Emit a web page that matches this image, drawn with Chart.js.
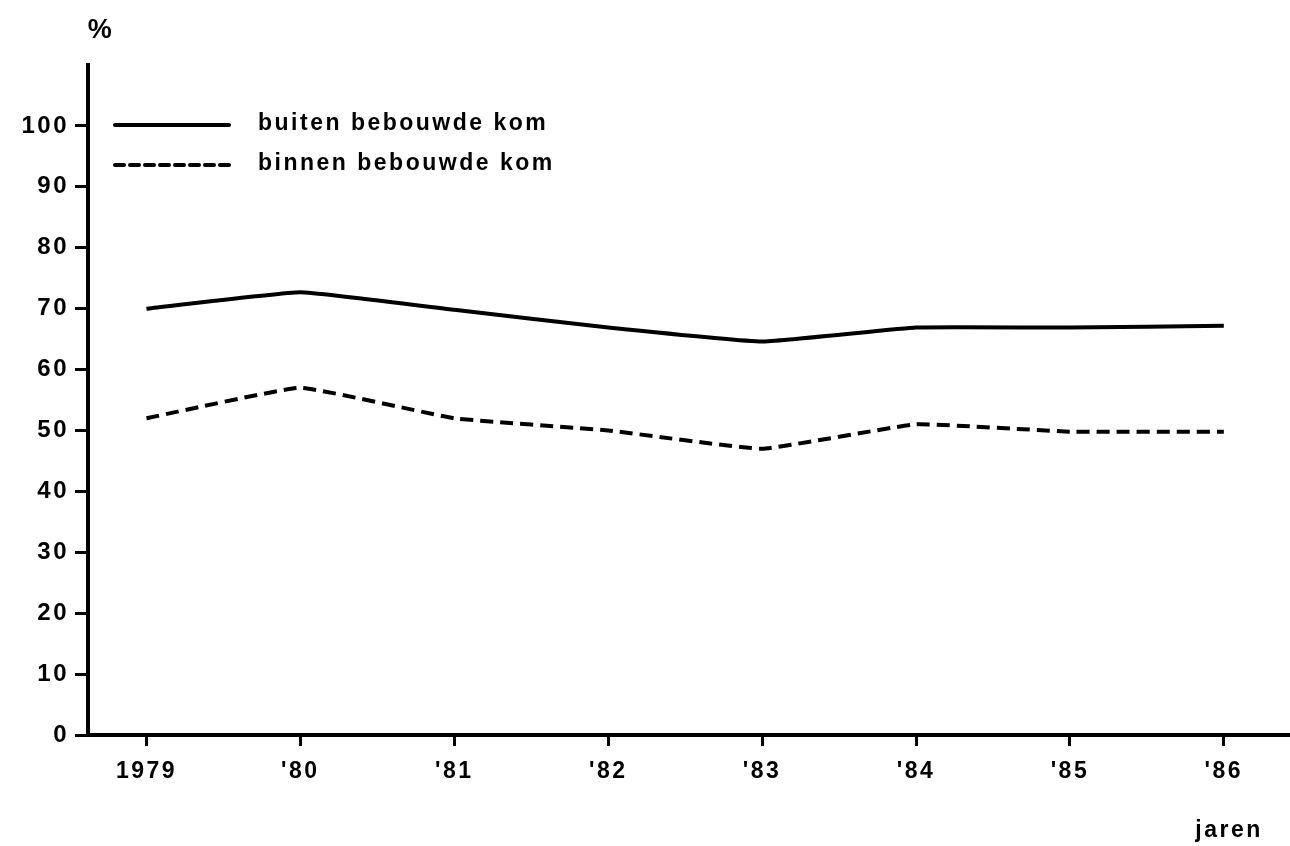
<!DOCTYPE html>
<html>
<head>
<meta charset="utf-8">
<script src="https://cdn.jsdelivr.net/npm/chart.js@4/dist/chart.umd.min.js"></script>
<style>
  html, body { margin: 0; padding: 0; background: #fff; }
  canvas { display: block; }
</style>
</head>
<body>
<canvas id="chart" width="1290" height="846"></canvas>
<script>
// years on the x axis
const yearLabels = ['1979', "'80", "'81", "'82", "'83", "'84", "'85", "'86"];
// percentages
const buiten = [70, 72.7, 69.8, 66.9, 64.6, 66.9, 66.9, 67.2];
const binnen = [52, 57, 52, 50, 47, 51, 49.8, 49.8];
const seriesNames = ['buiten bebouwde kom', 'binnen bebouwde kom'];

const FAMILY = '"Liberation Sans", Arial, sans-serif';

// legend + axis captions, drawn on top
const annotations = {
  id: 'annotations',
  beforeDraw(chart) {
    chart.ctx.letterSpacing = '2.5px';
  },
  afterDraw(chart) {
    const ctx = chart.ctx;
    ctx.save();
    ctx.letterSpacing = '2.5px';
    ctx.fillStyle = '#000';
    ctx.textBaseline = 'middle';

    ctx.textAlign = 'center';
    ctx.font = 'bold 27px ' + FAMILY;
    ctx.fillText('%', 101, 31);
    ctx.font = 'bold 23px ' + FAMILY;
    ctx.fillText('jaren', 1229, 831);

    chart.data.datasets.forEach((ds, i) => {
      const y = 125 + i * 40;
      ctx.beginPath();
      ctx.lineWidth = 4;
      ctx.lineCap = 'round';
      ctx.strokeStyle = ds.borderColor;
      ctx.setLineDash(ds.borderDash ? [9, 6] : []);
      ctx.moveTo(115, y);
      ctx.lineTo(229, y);
      ctx.stroke();
      ctx.setLineDash([]);
      ctx.textAlign = 'left';
      ctx.fillText(ds.label, 258, y - 1);
    });
    ctx.restore();
  }
};

new Chart(document.getElementById('chart'), {
  type: 'line',
  data: {
    datasets: [
      {
        label: seriesNames[0],
        data: buiten.map((v, i) => ({ x: i, y: v })),
        borderColor: '#000',
        borderWidth: 4,
        pointRadius: 0,
        tension: 0.1
      },
      {
        label: seriesNames[1],
        data: binnen.map((v, i) => ({ x: i, y: v })),
        borderColor: '#000',
        borderWidth: 4,
        borderDash: [13, 7],
        pointRadius: 0,
        tension: 0.1
      }
    ]
  },
  options: {
    responsive: false,
    animation: false,
    layout: { padding: { top: 65, right: 0, bottom: 0, left: 0 } },
    plugins: { legend: { display: false }, tooltip: { enabled: false } },
    scales: {
      x: {
        type: 'linear',
        min: -0.38,
        max: 7.43,
        afterBuildTicks: s => { s.ticks = yearLabels.map((_, i) => ({ value: i })); },
        afterFit: s => { s.height = 111; },
        border: { color: '#000', width: 4 },
        grid: { drawOnChartArea: false, tickLength: 11, tickColor: '#000', tickWidth: 3 },
        ticks: {
          autoSkip: false,
          maxRotation: 0,
          padding: 12,
          color: '#000',
          font: { family: FAMILY, size: 23, weight: 'bold' },
          callback: v => yearLabels[v] ?? ''
        }
      },
      y: {
        min: 0,
        max: 110,
        afterFit: s => { s.width = 88; },
        border: { color: '#000', width: 4 },
        grid: {
          drawOnChartArea: false,
          tickLength: 13,
          tickColor: c => (c.tick && c.tick.value > 100 ? 'rgba(0,0,0,0)' : '#000'),
          tickWidth: 3
        },
        ticks: {
          stepSize: 10,
          padding: 6,
          color: '#000',
          font: { family: FAMILY, size: 24, weight: 'bold' },
          callback: v => (v > 100 ? '' : v)
        }
      }
    }
  },
  plugins: [annotations]
});
</script>
</body>
</html>
